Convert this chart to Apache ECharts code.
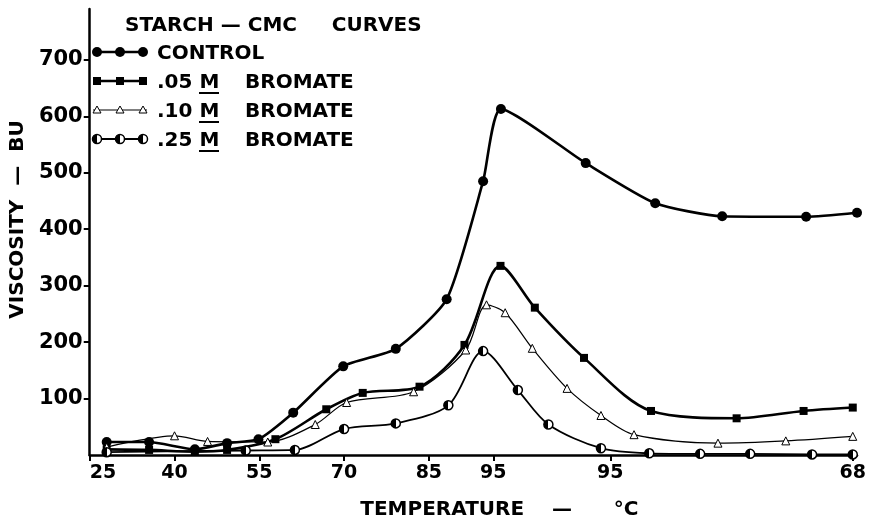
<!DOCTYPE html>
<html><head><meta charset="utf-8">
<script src="https://cdn.jsdelivr.net/npm/echarts@6/dist/echarts.min.js"></script>
<style>html,body{margin:0;padding:0;background:#fff}#c{width:870px;height:525px}</style>
</head><body><div id="c"></div>
<script>
// x values are elapsed minutes on the amylograph chart; tick labels show temperature
const tickPositions = [0, 10, 20, 30, 40, 47.6, 61.4, 90];
const tickLabels = ['25', '40', '55', '70', '85', '95', '95', '68'];
const yTicks = [100, 200, 300, 400, 500, 600, 700];

const controlX = [2.0, 7.0, 12.4, 16.2, 19.9, 24.0, 29.9, 36.1, 42.1, 46.4, 48.5, 58.5, 66.7, 74.6, 84.5, 90.5];
const controlY = [23, 23, 10, 21, 28, 75, 157, 188, 276, 485, 613, 517, 446, 423, 422, 429];

const m05X = [2.0, 7.0, 12.4, 16.2, 21.9, 27.9, 32.2, 38.9, 44.2, 48.45, 52.5, 58.3, 66.2, 76.3, 84.2, 90.0];
const m05Y = [10, 9, 6, 9, 28, 81, 110, 121, 195, 335, 261, 172, 78, 65, 78, 84];

const m10X = [2.0, 10.0, 13.9, 21.0, 26.6, 30.3, 38.2, 44.35, 46.8, 49.0, 52.2, 56.3, 60.3, 64.2, 74.1, 82.1, 90.0];
const m10Y = [14, 34, 24, 23, 54, 93, 112, 186, 266, 252, 189, 118, 70, 36, 21, 25, 33];

const m25X = [2.0, 18.4, 24.2, 30.0, 36.1, 42.3, 46.4, 50.5, 54.1, 60.3, 66.0, 72.0, 77.9, 85.2, 90.0];
const m25Y = [5, 8, 9, 46, 56, 88, 184, 115, 54, 12, 3, 2, 2, 1, 1];

const seriesNames = ['CONTROL', '.05 M BROMATE', '.10 M BROMATE', '.25 M BROMATE'];

const FONT = 'DejaVu Sans';
const pairs = (xs, ys) => xs.map((x, i) => [x, ys[i]]);
const halfFill = {type: 'linear', x: 0, y: 0, x2: 1, y2: 0, colorStops: [
  {offset: 0, color: '#000'}, {offset: 0.5, color: '#000'},
  {offset: 0.5, color: '#fff'}, {offset: 1, color: '#fff'}]};

const styles = [
  {symbol: 'circle', size: 10, lw: 2.6, smooth: 0.2, item: {color: '#000'}},
  {symbol: 'rect', size: 8, lw: 2.6, smooth: 0.3, item: {color: '#000'}},
  {symbol: 'triangle', size: 8, lw: 1.2, smooth: 0.3, item: {color: '#fff', borderColor: '#000', borderWidth: 1}},
  {symbol: 'circle', size: 9, lw: 1.8, smooth: 0.3, item: {color: halfFill, borderColor: '#000', borderWidth: 1.5}}
];
const datasets = [pairs(controlX, controlY), pairs(m05X, m05Y), pairs(m10X, m10Y), pairs(m25X, m25Y)];

const series = datasets.map((d, i) => ({
  name: seriesNames[i], type: 'line', data: d, smooth: styles[i].smooth,
  symbol: styles[i].symbol, symbolSize: styles[i].size, showAllSymbol: true,
  lineStyle: {color: '#000', width: styles[i].lw},
  itemStyle: styles[i].item, clip: false, z: 2 + i
}));

// legend drawn as graphic
const graphic = [];
const rowY = [52, 81, 110, 139];
const mx = [97, 120, 143];
graphic.push({type: 'text', left: 125, top: 16, style: {text: 'STARCH — CMC     CURVES', font: 'bold 20px ' + FONT, fill: '#000'}});
seriesNames.forEach((nm, i) => {
  const y = rowY[i], st = styles[i];
  graphic.push({type: 'line', shape: {x1: 93, y1: y, x2: 147, y2: y}, style: {stroke: '#000', lineWidth: st.lw}});
  mx.forEach(x => {
    if (st.symbol === 'rect') graphic.push({type: 'rect', shape: {x: x - 4, y: y - 4, width: 8, height: 8}, style: {fill: '#000'}});
    else if (st.symbol === 'triangle') graphic.push({type: 'polygon', shape: {points: [[x, y - 4], [x + 4, y + 3], [x - 4, y + 3]]}, style: {fill: '#fff', stroke: '#000', lineWidth: 1}});
    else graphic.push({type: 'circle', shape: {cx: x, cy: y, r: st.size / 2}, style: {fill: st.item.color, stroke: '#000', lineWidth: st.item.borderWidth || 0}});
  });
  if (i === 0) {
    graphic.push({type: 'text', x: 157, y: y + 2, style: {text: nm, font: 'bold 20px ' + FONT, fill: '#000', verticalAlign: 'middle'}});
  } else {
    const parts = nm.split(' ');
    graphic.push({type: 'text', x: 157, y: y + 2, style: {text: parts[0] + ' ' + parts[1], font: 'bold 20px ' + FONT, fill: '#000', verticalAlign: 'middle'}});
    graphic.push({type: 'line', shape: {x1: 199, y1: y + 12, x2: 219, y2: y + 12}, style: {stroke: '#000', lineWidth: 2}});
    graphic.push({type: 'text', x: 245, y: y + 2, style: {text: parts[2], font: 'bold 20px ' + FONT, fill: '#000', verticalAlign: 'middle'}});
  }
});

const chart = echarts.init(document.getElementById('c'), null, {renderer: 'canvas'});
chart.setOption({
  backgroundColor: '#fff',
  animation: false,
  grid: {left: 85, right: 13, top: 9, bottom: 69, containLabel: false},
  xAxis: {
    type: 'value', min: 0, max: 90.5,
    name: 'TEMPERATURE    —      °C', nameLocation: 'middle', nameGap: 45,
    nameTextStyle: {fontFamily: FONT, fontWeight: 'bold', fontSize: 20, color: '#000', padding: [0, 0, 0, 52]},
    axisLine: {lineStyle: {color: '#000', width: 2.5}},
    axisTick: {show: true, customValues: tickPositions, length: 6, lineStyle: {color: '#000', width: 2}},
    axisLabel: {customValues: tickPositions, margin: 9, alignMinLabel: 'left',
      formatter: v => { const k = tickPositions.indexOf(v); return k >= 0 ? tickLabels[k] : ''; },
      fontFamily: FONT, fontWeight: 'bold', fontSize: 19, color: '#000'},
    splitLine: {show: false}
  },
  yAxis: {
    type: 'value', min: 0, max: 790,
    name: 'VISCOSITY  —  BU', nameLocation: 'middle', nameRotate: 90, nameGap: 56,
    nameTextStyle: {fontFamily: FONT, fontWeight: 'bold', fontSize: 20, color: '#000', padding: [0, 0, 0, 25]},
    axisLine: {show: true, lineStyle: {color: '#000', width: 2.5}},
    axisTick: {show: true, customValues: yTicks, length: 6, lineStyle: {color: '#000', width: 2}},
    axisLabel: {customValues: yTicks, margin: 7, fontFamily: FONT, fontWeight: 'bold', fontSize: 21, color: '#000'},
    splitLine: {show: false}
  },
  graphic: graphic,
  series: series
});
</script></body></html>
